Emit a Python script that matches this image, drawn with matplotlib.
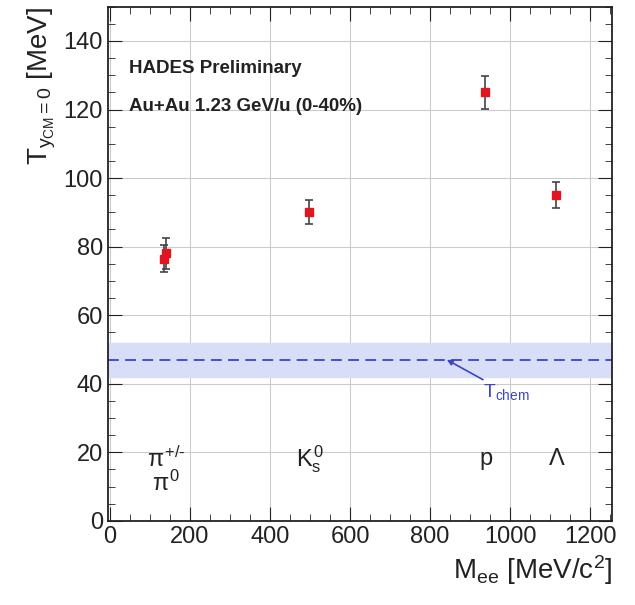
import numpy as np
import matplotlib.pyplot as plt
from matplotlib.ticker import MultipleLocator

plt.rcParams['font.family'] = ['Liberation Sans', 'DejaVu Sans']
plt.rcParams['mathtext.fontset'] = 'custom'
plt.rcParams['mathtext.rm'] = 'Liberation Sans'
plt.rcParams['mathtext.it'] = 'Liberation Sans'

# particle masses [MeV/c^2] and slope temperatures at mid-rapidity [MeV]
masses = [135.0, 139.6, 497.6, 938.3, 1115.7]
temps = [76.5, 78.0, 90.0, 125.0, 95.0]
errs = [4.0, 4.5, 3.5, 4.8, 3.8]

t_chem = 47.0
t_chem_err = 5.0

labels = [r'$\pi^{+/\text{-}}$', r'$\pi^{0}$', r'$K^{0}_{s}$', 'p', r'$\Lambda$']
label_x = [140, 140, 500, 940, 1118]
label_y = [18, 11, 18, 18, 18]

fig = plt.figure(figsize=(6.35, 6.05), dpi=100)
ax = fig.add_axes([0.170, 0.139, 0.794, 0.850])

ax.axhspan(t_chem - t_chem_err, t_chem + t_chem_err, color='#d8ddf8', zorder=1)
ax.axhline(t_chem, color='#3a45c8', ls=(0, (6, 3.5)), lw=1.3, zorder=2)

ax.errorbar(masses, temps, yerr=errs, fmt='s', color='#e0151f', ms=6,
            ecolor='#444444', elinewidth=1.2, capsize=3, capthick=1.2, zorder=4)

ax.annotate(r'T$_{\rm chem}$', xy=(842, t_chem), xytext=(932, 36),
            color='#3a45c8', fontsize=14,
            arrowprops=dict(arrowstyle='-|>', color='#3a45c8', lw=1.2,
                            mutation_scale=8, shrinkA=0, shrinkB=0))

for lab, lx, ly in zip(labels, label_x, label_y):
    ax.text(lx, ly, lab, fontsize=17, ha='center', va='center', color='#222222')

ax.text(48, 132, 'HADES Preliminary', fontsize=13.5, fontweight='bold',
        va='center', color='#222222')
ax.text(48, 121, 'Au+Au 1.23 GeV/u (0-40%)', fontsize=13.5, fontweight='bold',
        va='center', color='#222222')

ax.set_xlim(-5, 1255)
ax.set_ylim(0, 150)
ax.xaxis.set_major_locator(MultipleLocator(200))
ax.xaxis.set_minor_locator(MultipleLocator(50))
ax.yaxis.set_major_locator(MultipleLocator(20))
ax.yaxis.set_minor_locator(MultipleLocator(5))
ax.grid(True, which='major', color='#cccccc', lw=0.8)
ax.set_axisbelow(True)
ax.tick_params(which='both', direction='in', top=True, right=True,
               labelsize=17, colors='#222222')
ax.tick_params(which='major', length=10)
ax.tick_params(which='minor', length=5)
for s in ax.spines.values():
    s.set_linewidth(1.3)
    s.set_color('#222222')

ax.set_xlabel(r'M$_{\rm ee}$ [MeV/c$^{2}$]', fontsize=20, loc='right',
              color='#222222')
ax.set_ylabel(r'T$_{y_{\rm CM}=0}$ [MeV]', fontsize=20, loc='top',
              color='#222222')

fig.savefig('out.png', dpi=100)
